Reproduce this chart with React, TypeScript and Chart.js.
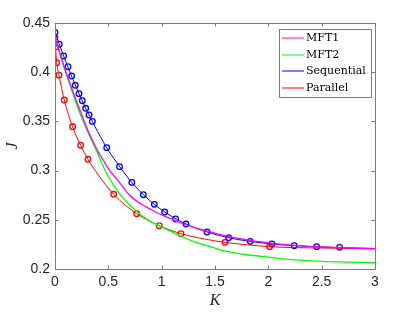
import React, { useEffect, useRef } from "react";
import { Chart, registerables } from "chart.js";

Chart.register(...registerables);

// Shared K grid for the mean-field curves
const kGrid = [0, 0.05, 0.1, 0.15, 0.2, 0.25, 0.3, 0.35, 0.4, 0.45, 0.5, 0.6, 0.7, 0.8, 0.9, 1.0, 1.1, 1.2, 1.3, 1.4, 1.5, 1.6, 1.8, 2.0, 2.25, 2.5, 2.75, 3.0];
const mft1J = [0.435, 0.418, 0.401, 0.386, 0.371, 0.357, 0.343, 0.331, 0.320, 0.311, 0.302, 0.2885, 0.275, 0.2665, 0.2605, 0.255, 0.2505, 0.246, 0.2423, 0.2393, 0.2365, 0.2337, 0.2295, 0.2266, 0.224, 0.2225, 0.2213, 0.2206];
const mft2J = [0.435, 0.417, 0.400, 0.384, 0.368, 0.354, 0.341, 0.329, 0.3175, 0.305, 0.294, 0.277, 0.265, 0.2555, 0.248, 0.2428, 0.2375, 0.2325, 0.228, 0.2245, 0.2212, 0.2182, 0.2145, 0.212, 0.2092, 0.2077, 0.2069, 0.2064];

// Sequential theory curve
const seqLineK = [0, 0.05, 0.1, 0.15, 0.2, 0.25, 0.3, 0.35, 0.4, 0.5, 0.6, 0.7, 0.8, 0.9, 1.0, 1.2, 1.4, 1.6, 1.8, 2.0, 2.25, 2.5, 2.75, 3.0];
const seqLineJ = [0.4405, 0.4255, 0.411, 0.3975, 0.3845, 0.372, 0.3605, 0.35, 0.3395, 0.3205, 0.305, 0.2905, 0.2785, 0.2685, 0.26, 0.2472, 0.2385, 0.2325, 0.2285, 0.2258, 0.2237, 0.2224, 0.2215, 0.2208];
// Sequential simulation markers
const seqPtsK = [0, 0.04, 0.081, 0.122, 0.156, 0.19, 0.225, 0.256, 0.288, 0.319, 0.35, 0.485, 0.605, 0.72, 0.828, 0.931, 1.028, 1.131, 1.228, 1.425, 1.628, 1.83, 2.034, 2.243, 2.453, 2.668];
const seqPtsJ = [0.4405, 0.4284, 0.4165, 0.4056, 0.3961, 0.3867, 0.3782, 0.371, 0.3633, 0.3565, 0.35, 0.3233, 0.304, 0.288, 0.2755, 0.2657, 0.2579, 0.2508, 0.2457, 0.2376, 0.2318, 0.2281, 0.2254, 0.2237, 0.2227, 0.222];

// Parallel theory curve
const parLineK = [0, 0.005, 0.016, 0.0375, 0.087, 0.165, 0.24, 0.309, 0.4, 0.55, 0.766, 0.978, 1.181, 1.4, 1.594, 2.012, 2.5, 3.0];
const parLineJ = [0.4355, 0.4256, 0.4097, 0.397, 0.3717, 0.3445, 0.3258, 0.3115, 0.2965, 0.2759, 0.2562, 0.244, 0.2359, 0.2305, 0.2271, 0.2227, 0.2213, 0.2206];
// Parallel simulation markers
const parPtsK = [0, 0.005, 0.016, 0.0375, 0.087, 0.165, 0.24, 0.309, 0.55, 0.766, 0.978, 1.181, 1.594, 2.012];
const parPtsJ = [0.4355, 0.4256, 0.4097, 0.397, 0.3717, 0.3445, 0.3258, 0.3115, 0.2759, 0.2562, 0.244, 0.2359, 0.2271, 0.2227];

const legendLabels = ["MFT1", "MFT2", "Sequential", "Parallel"];
const legendColors = ["#ff00ff", "#00ff00", "#0000ff", "#ff0000"];

const xTicks = [0, 0.5, 1, 1.5, 2, 2.5, 3];
const yTicks = [0.2, 0.25, 0.3, 0.35, 0.4, 0.45];

const zip = (xs: number[], ys: number[]) => xs.map((x, i) => ({ x, y: ys[i] }));
const fmt = (v: any) => String(Math.round(Number(v) * 100) / 100);

const frame = {
  id: "frame",
  afterDatasetsDraw(chart: any) {
    const { ctx, chartArea: a, scales } = chart;
    ctx.save();
    ctx.strokeStyle = "#7a7a7a";
    ctx.lineWidth = 1;
    const tl = 3.5;
    ctx.beginPath();
    for (const t of xTicks) {
      const px = Math.round(scales.x.getPixelForValue(t)) + 0.5;
      ctx.moveTo(px, a.bottom);
      ctx.lineTo(px, a.bottom - tl);
      ctx.moveTo(px, a.top);
      ctx.lineTo(px, a.top + tl);
    }
    for (const t of yTicks) {
      const py = Math.round(scales.y.getPixelForValue(t)) + 0.5;
      ctx.moveTo(a.left, py);
      ctx.lineTo(a.left + tl, py);
      ctx.moveTo(a.right, py);
      ctx.lineTo(a.right - tl, py);
    }
    ctx.stroke();
    ctx.strokeRect(Math.round(a.left) + 0.5, Math.round(a.top) + 0.5, Math.round(a.right - a.left), Math.round(a.bottom - a.top));

    // legend
    const bx = 279.5, by = 29.5, bw = 92, bh = 68;
    ctx.fillStyle = "#ffffff";
    ctx.fillRect(bx, by, bw, bh);
    ctx.strokeStyle = "#7a7a7a";
    ctx.strokeRect(bx, by, bw, bh);
    const rows = [38, 55, 71, 88];
    ctx.font = '11px "DejaVu Serif"';
    ctx.textBaseline = "middle";
    ctx.textAlign = "left";
    legendLabels.forEach((lab, i) => {
      ctx.strokeStyle = legendColors[i];
      ctx.lineWidth = 1;
      ctx.beginPath();
      ctx.moveTo(282, rows[i]);
      ctx.lineTo(304, rows[i]);
      ctx.stroke();
      ctx.fillStyle = "#000000";
      ctx.fillText(lab, 306, rows[i] + 0.5);
    });

    // axis titles
    ctx.fillStyle = "#262626";
    ctx.font = 'italic 16px "Liberation Serif"';
    ctx.textAlign = "center";
    ctx.textBaseline = "middle";
    ctx.fillText("K", 215, 301);
    ctx.save();
    ctx.translate(13, 146);
    ctx.rotate(-Math.PI / 2);
    ctx.fillText("J", 0, 0);
    ctx.restore();
    ctx.restore();
  },
};

export default function App() {
  const ref = useRef<HTMLCanvasElement | null>(null);
  useEffect(() => {
    document.body.style.margin = "0";
    const canvas = ref.current!;
    const lineDs = (label: string, data: any, color: string, width: number) => ({
      label,
      data,
      borderColor: color,
      backgroundColor: color,
      borderWidth: width,
      pointRadius: 0,
      showLine: true,
      cubicInterpolationMode: "monotone" as const,
      fill: false,
    });
    const ptsDs = (label: string, data: any, color: string) => ({
      label,
      data,
      borderColor: color,
      backgroundColor: "rgba(0,0,0,0)",
      pointRadius: 2.8,
      pointBorderWidth: 1.3,
      pointStyle: "circle",
      showLine: false,
    });
    const chart = new Chart(canvas, {
      type: "line",
      data: {
        datasets: [
          lineDs("MFT1", zip(kGrid, mft1J), legendColors[0], 1.3),
          lineDs("MFT2", zip(kGrid, mft2J), legendColors[1], 1.3),
          lineDs("Sequential", zip(seqLineK, seqLineJ), legendColors[2], 1),
          lineDs("Parallel", zip(parLineK, parLineJ), legendColors[3], 1),
          ptsDs("Sequential sim", zip(seqPtsK, seqPtsJ), legendColors[2]),
          ptsDs("Parallel sim", zip(parPtsK, parPtsJ), legendColors[3]),
        ] as any,
      },
      options: {
        responsive: false,
        animation: false,
        layout: { padding: { top: 23, right: 40, left: 0, bottom: 0 } },
        plugins: { legend: { display: false }, tooltip: { enabled: false } },
        scales: {
          x: {
            type: "linear",
            min: 0,
            max: 3,
            afterFit: (s: any) => { s.height = 43; },
            afterBuildTicks: (s: any) => { s.ticks = xTicks.map((v) => ({ value: v })); },
            grid: { display: false, drawTicks: false },
            border: { display: false },
            ticks: { color: "#262626", font: { family: '"Liberation Sans"', size: 14 }, padding: 5, maxRotation: 0, callback: fmt },
          },
          y: {
            type: "linear",
            min: 0.2,
            max: 0.45,
            afterFit: (s: any) => { s.width = 55; },
            afterBuildTicks: (s: any) => { s.ticks = yTicks.map((v) => ({ value: v })); },
            grid: { display: false, drawTicks: false },
            border: { display: false },
            ticks: {
              color: "#262626",
              font: { family: '"Liberation Sans"', size: 14 },
              padding: 5,
              callback: fmt,
            },
          },
        },
      },
      plugins: [frame],
    });
    return () => chart.destroy();
  }, []);
  return <canvas ref={ref} width={415} height={312} style={{ display: "block" }} />;
}
